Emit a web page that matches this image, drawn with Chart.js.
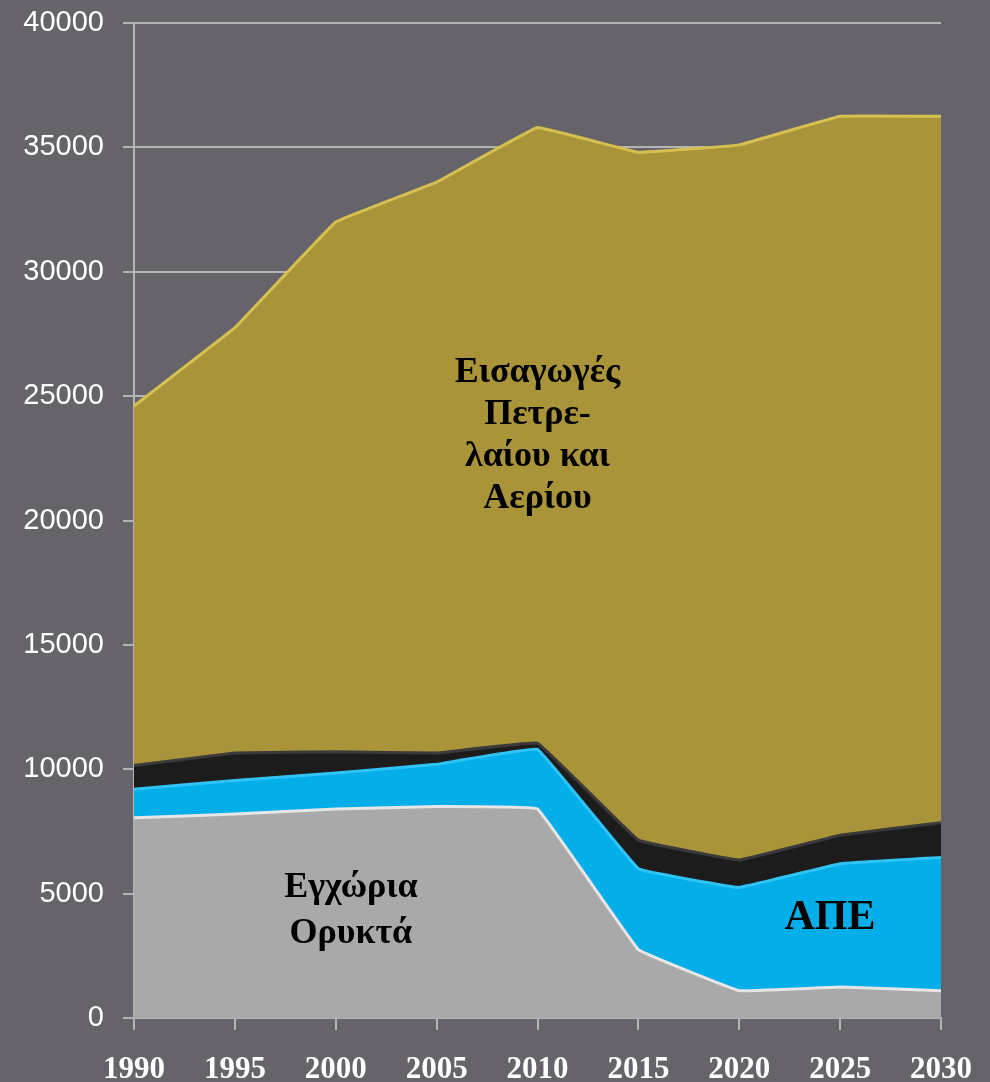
<!DOCTYPE html>
<html>
<head>
<meta charset="utf-8">
<script src="https://cdn.jsdelivr.net/npm/chart.js@4/dist/chart.umd.min.js"></script>
<style>
    html, body { margin: 0; padding: 0; background: #67636b; }
    #wrap { width: 990px; height: 1082px; }
</style>
</head>
<body>
<div id="wrap"><canvas id="energyChart" width="990" height="1082"></canvas></div>
<script>

// ---------------------------
// Data (ktoe, stacked layers)
// ---------------------------

const years = ["1990", "1995", "2000", "2005", "2010", "2015", "2020", "2025", "2030"];

const domesticFossil = [8050, 8200, 8400, 8500, 8400, 2750, 1100, 1250, 1100];
const renewables     = [1150, 1350, 1450, 1700, 2400, 3250, 4150, 4950, 5350];
const otherSources   = [950, 1100, 850, 450, 250, 1150, 1100, 1150, 1400];
const importsOilGas  = [14450, 17100, 21300, 22950, 24750, 27650, 28750, 28900, 28400];

const yTicks = [0, 5000, 10000, 15000, 20000, 25000, 30000, 35000, 40000];

// labels drawn inside the areas: [lines, year index, value]
const areaLabels = [
    { lines: ["Εισαγωγές", "Πετρε-", "λαίου και", "Αερίου"], at: 4, value: 23400, size: 36, lh: 42 },
    { lines: ["Εγχώρια", "Ορυκτά"], at: 2.15, value: 4300, size: 36, lh: 46 },
    { lines: ["ΑΠΕ"], at: 6.9, value: 4000, size: 42, lh: 46 }
];


// ---------------------------
// Plugins
// ---------------------------

const backgroundPlugin = {
    id: "bg",
    beforeDraw(chart) {
        const ctx = chart.ctx;
        ctx.save();
        ctx.fillStyle = "#67636b";
        ctx.fillRect(0, 0, chart.width, chart.height);
        ctx.restore();
    }
};

const labelPlugin = {
    id: "areaLabels",
    afterDatasetsDraw(chart) {
        const ctx = chart.ctx;
        const x = chart.scales.x;
        const y = chart.scales.y;
        ctx.save();
        ctx.textAlign = "center";
        ctx.textBaseline = "middle";
        ctx.fillStyle = "#000";
        areaLabels.forEach(function (lab) {
            ctx.font = "bold " + lab.size + "px 'Liberation Serif', 'DejaVu Serif', serif";
            const cx = x.getPixelForValue(lab.at);
            const cy = y.getPixelForValue(lab.value);
            const top = cy - (lab.lines.length - 1) * lab.lh / 2;
            lab.lines.forEach(function (t, i) {
                ctx.fillText(t, cx, top + i * lab.lh);
            });
        });
        ctx.restore();
    }
};


// ---------------------------
// Chart
// ---------------------------

new Chart(document.getElementById("energyChart"), {

    type: "line",

    data: {

        labels: years,

        datasets: [

            {
                label: "Εγχώρια Ορυκτά",
                data: domesticFossil,
                backgroundColor: "#a9a9a9",
                borderColor: "#e6e6e6",
                borderWidth: 3,
                fill: "origin"
            },

            {
                label: "ΑΠΕ",
                data: renewables,
                backgroundColor: "#04aee8",
                borderColor: "#30c4f6",
                borderWidth: 3,
                fill: "-1"
            },

            {
                label: "Λοιπά",
                data: otherSources,
                backgroundColor: "#1c1c1c",
                borderColor: "#3a3a3a",
                borderWidth: 3,
                fill: "-1"
            },

            {
                label: "Εισαγωγές Πετρελαίου και Αερίου",
                data: importsOilGas,
                backgroundColor: "#aa943a",
                borderColor: "#d6c150",
                borderWidth: 3,
                fill: "-1"
            }

        ]

    },

    options: {

        responsive: false,
        animation: false,

        layout: {
            padding: { top: 23, right: 49, left: 0, bottom: 0 }
        },

        elements: {
            point: { radius: 0 },
            line: { tension: 0.05 }
        },

        plugins: {
            legend: { display: false },
            tooltip: { enabled: false }
        },

        scales: {

            x: {
                offset: false,
                afterFit: function (scale) {
                    scale.height = 64;
                    scale.paddingLeft = 0;
                    scale.paddingRight = 0;
                },
                grid: {
                    drawOnChartArea: false,
                    color: "#b4b4b4",
                    lineWidth: 2,
                    tickLength: 12
                },
                border: { color: "#b4b4b4", width: 2 },
                ticks: {
                    color: "#ffffff",
                    padding: 21,
                    maxRotation: 0,
                    font: { family: "'Liberation Serif', serif", size: 31, weight: "bold" }
                }
            },

            y: {
                stacked: true,
                min: 0,
                max: 40000,
                afterFit: function (scale) {
                    scale.width = 134;
                    scale.paddingTop = 0;
                    scale.paddingBottom = 0;
                },
                afterBuildTicks: function (scale) {
                    scale.ticks = yTicks.map(function (v) { return { value: v }; });
                },
                grid: {
                    color: "#b4b4b4",
                    lineWidth: 2,
                    tickLength: 11
                },
                border: { color: "#b4b4b4", width: 2 },
                ticks: {
                    color: "#ffffff",
                    padding: 19,
                    font: { family: "'Liberation Sans', Arial, sans-serif", size: 29 },
                    callback: function (value) { return String(value); }
                }
            }

        }

    },

    plugins: [backgroundPlugin, labelPlugin]

});

</script>
</body>
</html>
